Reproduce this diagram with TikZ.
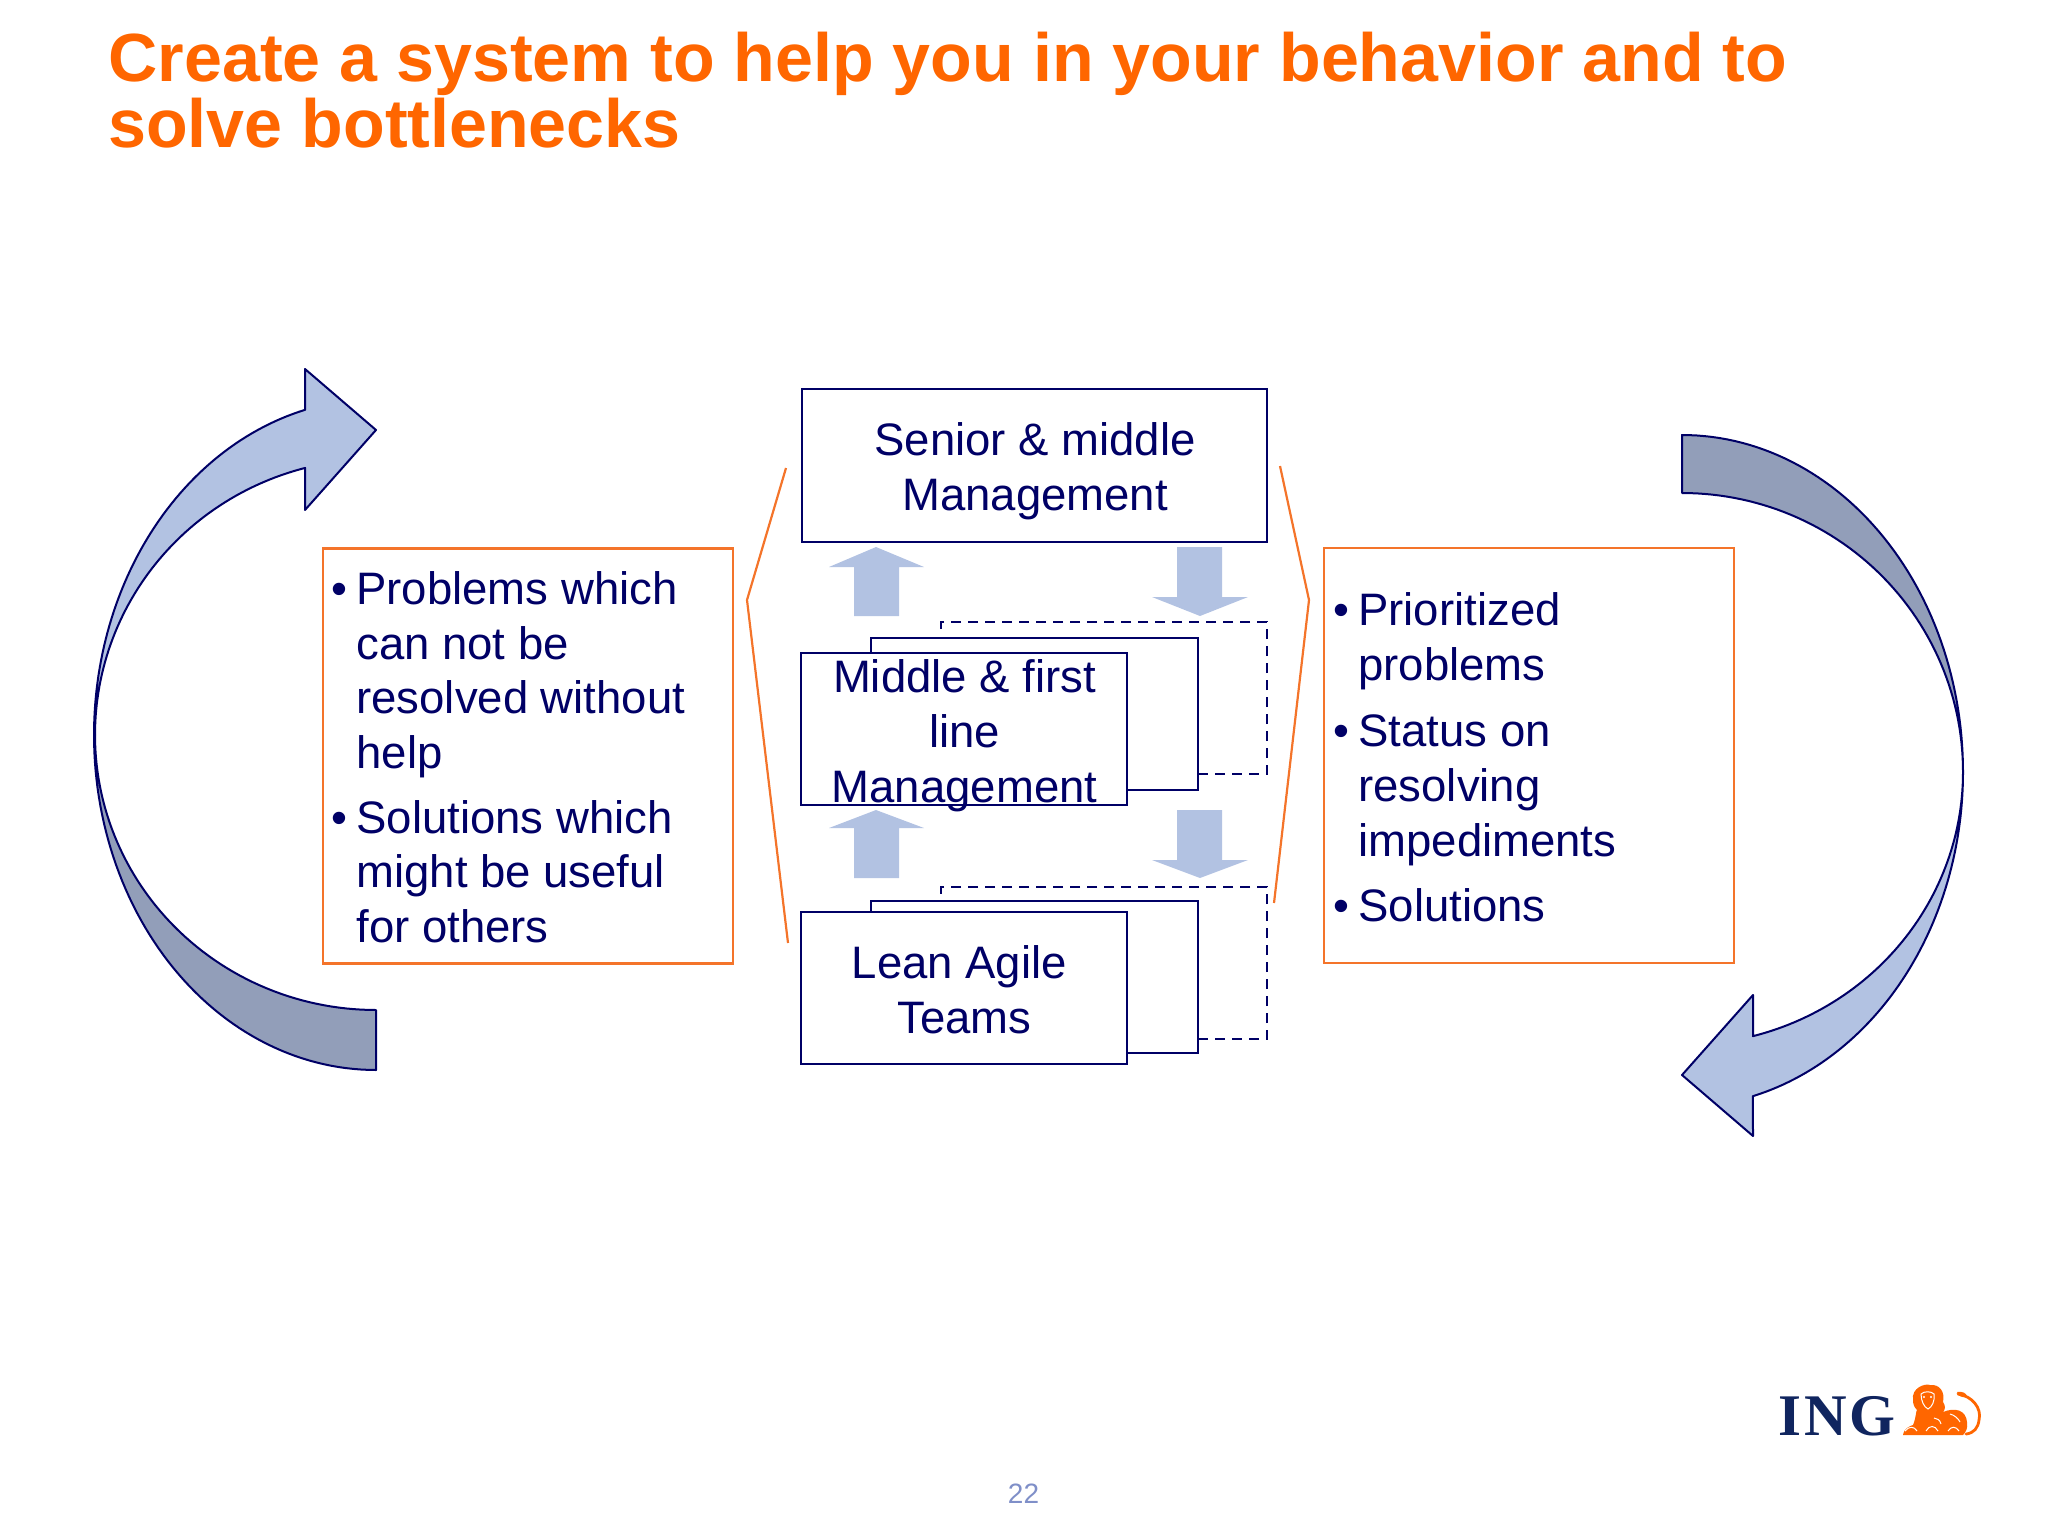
\documentclass[tikz,border=0pt]{standalone}
\usepackage{fontspec}
\setmainfont{Liberation Sans}
\newfontfamily\logofont{Liberation Serif}[LetterSpace=5]
\definecolor{navy}{HTML}{000066}
\definecolor{ingorange}{HTML}{FF6600}
\definecolor{boxorange}{HTML}{F4742A}
\definecolor{lightblue}{HTML}{B2C2E2}
\definecolor{darkblue}{HTML}{929EB9}
\definecolor{pagenum}{HTML}{7F8FC8}
\definecolor{logonavy}{HTML}{10255F}
\tikzset{
  navybox/.style={draw=navy,fill=white,line width=1pt,inner sep=0pt},
  label text/.style={text=navy,font=\fontsize{22.75}{27.4}\selectfont,align=center,inner sep=0pt},
  list text/.style={text=navy,font=\fontsize{22.75}{27.4}\selectfont,align=left,inner sep=0pt,anchor=north west},
  orangebox/.style={draw=boxorange,line width=1.2pt,inner sep=0pt},
  bracket/.style={draw=boxorange,line width=1.1pt},
  dashline/.style={draw=navy,line width=.9pt,dash pattern=on 5pt off 3.5pt},
  blockarrow/.style={fill=lightblue,draw=none},
  curvedlight/.style={fill=lightblue,draw=navy,line width=1pt,line join=round},
  curveddark/.style={fill=darkblue,draw=navy,line width=1pt,line join=round},
  lionline/.style={white,line width=.5pt},
}
\newcommand{\bul}{\llap{•\hspace{4.5pt}}}
\begin{document}
\begin{tikzpicture}[x=.5pt,y=-.5pt]
\useasboundingbox (0,0) rectangle (2048,1536);
% title
\node[anchor=north west,inner sep=0pt,text=ingorange,align=left,font=\fontsize{34.1}{33}\selectfont\bfseries] (title) at (108,32)
  {Create a system to help you in your behavior and to\\solve bottlenecks};
% left curved arrow
\draw[curveddark] (376,1010) -- plot[domain=90:180,samples=60,variable=\t] ({376+281*cos(\t)},{735+275*sin(\t)})
  -- plot[domain=180:90,samples=60,variable=\t] ({376+282*cos(\t)},{735+335*sin(\t)}) -- cycle;
\draw[curvedlight] (376,430) -- (305,369) -- (305,410)
  -- plot[domain=255.4:180,samples=60,variable=\t] ({376+282*cos(\t)},{735+336*sin(\t)})
  -- plot[domain=180:255.4,samples=60,variable=\t] ({376+281*cos(\t)},{735+276*sin(\t)})
  -- (305,510) -- cycle;
% right curved arrow
\draw[curveddark] (1682,435) -- plot[domain=-90:0,samples=60,variable=\t] ({1682+281*cos(\t)},{772+337*sin(\t)})
  -- plot[domain=0:-90,samples=60,variable=\t] ({1682+281*cos(\t)},{772+279*sin(\t)}) -- cycle;
\draw[curvedlight] (1682,1075) -- (1753,995) -- (1753,1036)
  -- plot[domain=75.4:0,samples=60,variable=\t] ({1682+281*cos(\t)},{772+273*sin(\t)})
  -- plot[domain=0:75.4,samples=60,variable=\t] ({1682+281*cos(\t)},{772+335*sin(\t)})
  -- (1753,1136) -- cycle;
% orange boxes
\node[orangebox,minimum width=205pt,minimum height=207.5pt] (leftbox) at (528,756) {};
\node[orangebox,minimum width=205pt,minimum height=207.5pt] (rightbox) at (1529,755.5) {};
\node[list text] (lefttext) at (356,571) {\bul Problems which\\can not be\\resolved without\\help\\[4.8pt]\bul Solutions which\\might be useful\\for others};
\node[list text] (righttext) at (1358,592.5) {\bul Prioritized\\problems\\[5.5pt]\bul Status on\\resolving\\impediments\\[5.5pt]\bul Solutions};
% brackets
\coordinate (bl1) at (786,468); \coordinate (bl2) at (747,600); \coordinate (bl3) at (788,943);
\coordinate (br1) at (1280,466); \coordinate (br2) at (1309,600); \coordinate (br3) at (1274,903);
\draw[bracket] (bl1) -- (bl2) -- (bl3);
\draw[bracket] (br1) -- (br2) -- (br3);
% block arrows
\fill[blockarrow] (876,547) -- (924,567) -- (899,567) -- (899,616) -- (854,616) -- (854,567) -- (829,567) -- cycle;
\fill[blockarrow] (1177,547) -- (1222,547) -- (1222,597) -- (1248,597) -- (1200,616) -- (1152,597) -- (1177,597) -- cycle;
\fill[blockarrow] (876,810) -- (924,828) -- (899,828) -- (899,878) -- (854,878) -- (854,828) -- (829,828) -- cycle;
\fill[blockarrow] (1177,810) -- (1222,810) -- (1222,860) -- (1248,860) -- (1200,878) -- (1152,860) -- (1177,860) -- cycle;
% senior box
\node[navybox,minimum width=232.5pt,minimum height=76.5pt] (senior) at (1034,465.5) {};
\node[label text] (seniortext) at (1035,471.5) {Senior \& middle\\Management};
% middle stack
\coordinate (d1a) at (941,634); \coordinate (d1b) at (941,622); \coordinate (d1c) at (1267,622); \coordinate (d1d) at (1267,774); \coordinate (d1e) at (1198,774);
\draw[dashline] (d1e) -- (d1d) -- (d1c) -- (d1b) -- (d1a);
\node[navybox,minimum width=163.5pt,minimum height=76pt] (midback) at (1034.5,714) {};
\node[navybox,minimum width=163pt,minimum height=76pt] (midfront) at (964,729) {};
\node[label text] (midtext) at (964.5,735.5) {Middle \& first\\line\\Management};
% lean stack
\coordinate (d2a) at (941,896); \coordinate (d2b) at (941,887); \coordinate (d2c) at (1267,887); \coordinate (d2d) at (1267,1039); \coordinate (d2e) at (1198,1039);
\draw[dashline] (d2e) -- (d2d) -- (d2c) -- (d2b) -- (d2a);
\node[navybox,minimum width=163.5pt,minimum height=76pt] (leanback) at (1034.5,976.5) {};
\node[navybox,minimum width=163pt,minimum height=76pt] (leanfront) at (964,988) {};
\node[label text] (leantext) at (964.5,990) {Lean Agile\hspace*{5.2pt}\\Teams};
% page number
\node[text=pagenum,font=\fontsize{14}{16}\selectfont,inner sep=0pt] (page) at (1023.5,1494) {22};
% logo
\node[anchor=base west,inner sep=0pt,text=logonavy,font=\fontsize{29.5}{32}\logofont\bfseries] (logo) at (1778,1435) {ING};
% lion
\fill[ingorange] (1913,1400) .. controls (1911,1388) and (1925,1383) .. (1930,1385)
  .. controls (1940,1384) and (1945,1392) .. (1943,1402) .. controls (1946,1406) and (1945,1410) .. (1943,1412)
  .. controls (1955,1407) and (1966,1410) .. (1967,1422) .. controls (1968,1428) and (1966,1432) .. (1963,1435)
  -- (1903,1435) .. controls (1904,1428) and (1910,1426) .. (1913,1425)
  .. controls (1916,1418) and (1916,1410) .. (1917,1410) .. controls (1914,1407) and (1913,1404) .. (1913,1400) -- cycle;
\draw[ingorange,line width=1.4pt,line cap=round] (1958,1394) .. controls (1972,1396) and (1982,1408) .. (1979,1420) .. controls (1978,1428) and (1974,1433) .. (1966,1434);
\fill[ingorange] (1957,1392) .. controls (1962,1391) and (1967,1393) .. (1967,1397) .. controls (1962,1398) and (1958,1396) .. (1957,1392) -- cycle;
\draw[lionline] (1921,1394) .. controls (1924,1391) and (1931,1391) .. (1934,1394) .. controls (1935,1401) and (1932,1407) .. (1928,1409) .. controls (1924,1407) and (1921,1401) .. (1921,1394) -- cycle;
\fill[white] (1924,1397) circle[radius=1.1]; \fill[white] (1931,1397) circle[radius=1.1];
\draw[lionline] (1905,1431) .. controls (1909,1426) and (1914,1426) .. (1917,1431);
\draw[lionline] (1926,1431) .. controls (1929,1425) and (1935,1425) .. (1938,1431);
\draw[lionline] (1948,1431) .. controls (1951,1426) and (1956,1426) .. (1959,1431);
\draw[lionline] (1950,1414) .. controls (1954,1415) and (1958,1418) .. (1960,1422);
\draw[lionline] (1934,1418) .. controls (1937,1418) and (1940,1420) .. (1941,1424);
\end{tikzpicture}
\end{document}
